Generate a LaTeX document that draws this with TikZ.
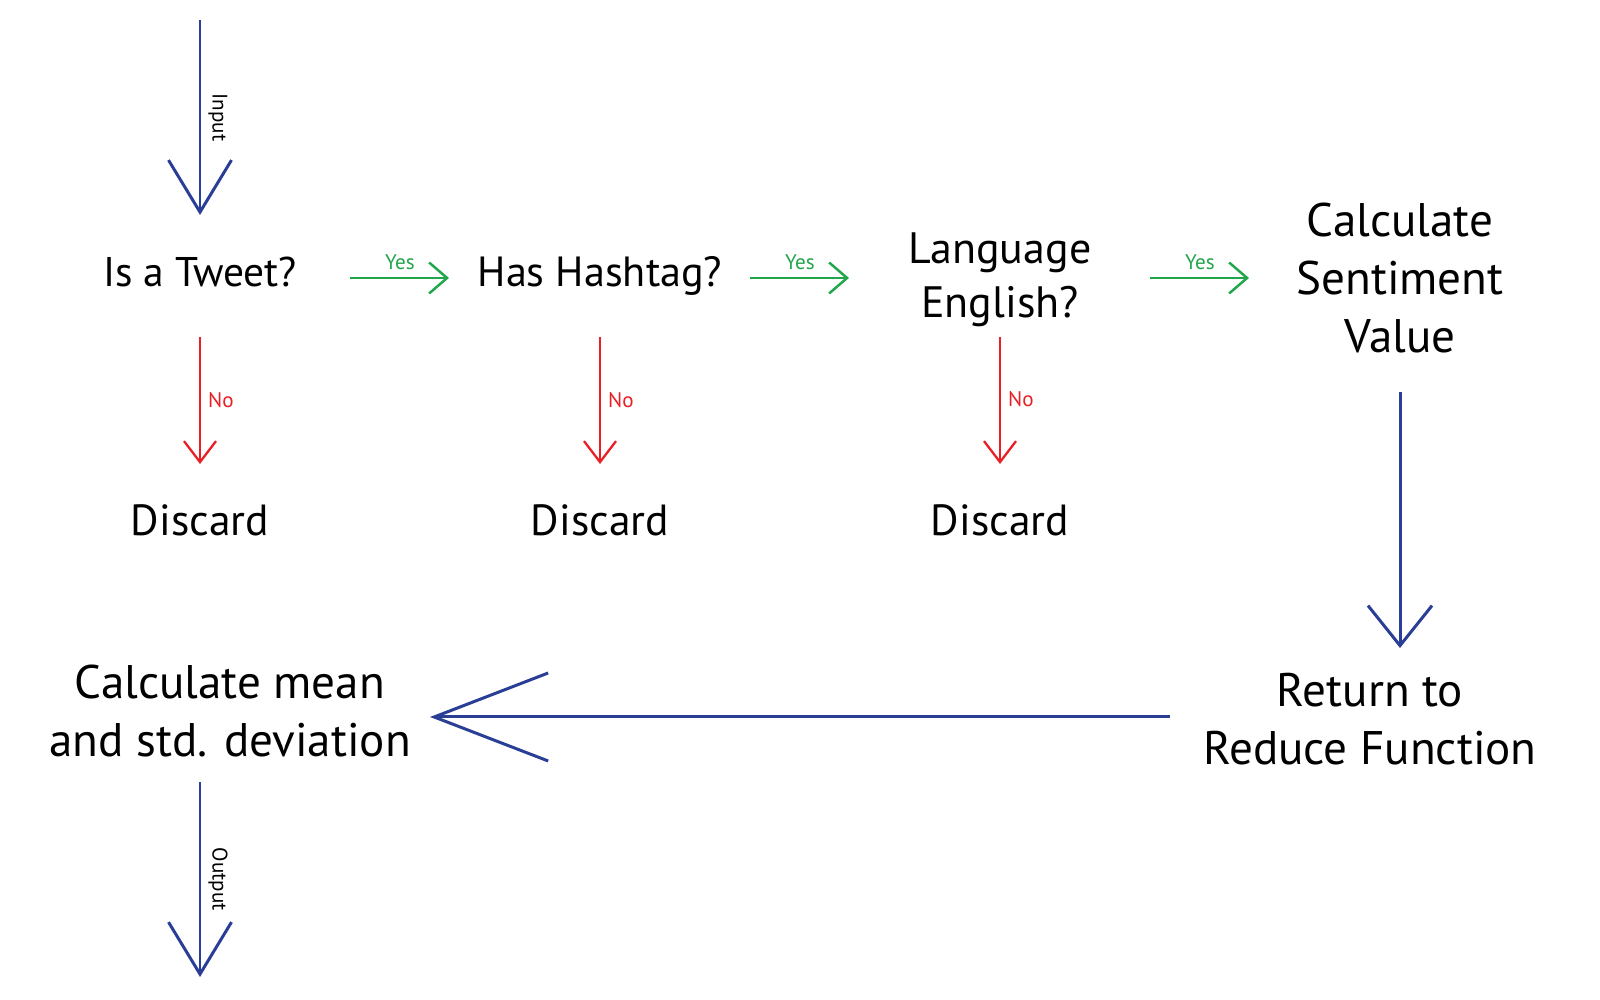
\documentclass[tikz,border=0pt]{standalone}
\usepackage{fontspec}
\setmainfont{PT Sans}
\usetikzlibrary{arrows.meta}

\definecolor{flowblue}{RGB}{42,62,150}
\definecolor{yesgreen}{RGB}{34,166,76}
\definecolor{nored}{RGB}{232,32,37}

\begin{document}
\begin{tikzpicture}[
    txt/.style = {inner sep=0, align=center, text=black,
        font=\fontsize{12.2pt}{16.4pt}\selectfont},
    big/.style = {txt, font=\fontsize{13.4pt}{16.4pt}\selectfont},
    oneline/.style = {txt, text height=0.7em, text depth=0pt},
    lbl/.style = {font=\fontsize{6pt}{7pt}\selectfont, inner sep=2pt},
    flow/.style = {draw=flowblue, line width=0.85pt},
    yes/.style = {draw=yesgreen, line width=0.7pt,
        -{Straight Barb[sharp, length=0.18cm, width=0.31cm]},
        shorten <=1.50cm, shorten >=1.51cm},
    no/.style = {draw=nored, line width=0.65pt,
        -{Straight Barb[sharp, length=0.21cm, width=0.32cm]},
        shorten <=0.63cm, shorten >=0.59cm},
    ]
  \useasboundingbox (0,0) rectangle (16,10);

        %free ends
        \coordinate (in) at (2.00, 9.80);
        \coordinate (out) at (2.00, 0.23);

        %checks
        \node[oneline, font=\fontsize{11.8pt}{16.4pt}\selectfont] (tweet) at (2.00, 7.26) {Is a Tweet?};
        \node[oneline, font=\fontsize{12pt}{16.4pt}\selectfont] (hashtag) at (6.00, 7.26) {Has Hashtag?};
        \node[txt, font=\fontsize{12.5pt}{15.5pt}\selectfont] (lang) at (10.00, 7.20) {Language\\English?};
        \node[big] (senti) at (14.00, 7.22) {Calculate\\Sentiment\\Value};

        %discards
        \node[oneline, font=\fontsize{12.4pt}{16.4pt}\selectfont] (disc1) at (2.00, 4.77) {Discard};
        \node[oneline, font=\fontsize{12.4pt}{16.4pt}\selectfont] (disc2) at (6.00, 4.77) {Discard};
        \node[oneline, font=\fontsize{12.4pt}{16.4pt}\selectfont] (disc3) at (10.00, 4.77) {Discard};

        %reduce
        \node[big] (reduce) at (13.70, 2.81) {Return to\\Reduce Function};
        \node[big] (mean) at (2.30, 2.89) {Calculate mean\\and std. deviation};

        \path
            %input
            (in) edge[flow, -{Straight Barb[sharp, length=0.52cm, width=0.63cm]}, shorten >=0.59cm]
                node [pos = 0.384, lbl, anchor = south, rotate = -90] {Input} (tweet.center)

            %yes branches
            ([yshift=-0.04cm]tweet.center) edge[yes] node [midway, above, lbl, text = yesgreen] {Yes}
                ([yshift=-0.04cm]tweet.center -| hashtag.center)
            ([yshift=-0.04cm]hashtag.center) edge[yes] node [midway, above, lbl, text = yesgreen] {Yes}
                ([yshift=-0.04cm]hashtag.center -| lang.center)
            ([yshift=0.02cm]lang.center) edge[yes] node [midway, above, lbl, text = yesgreen] {Yes}
                ([yshift=0.02cm]lang.center -| senti.center)

            %no branches
            (tweet.center) edge[no] node [pos = 0.505, right, lbl, text = nored] {No} (disc1.center)
            (hashtag.center) edge[no] node [pos = 0.505, right, lbl, text = nored] {No} (disc2.center)
            (lang.center) edge[no, shorten <=0.57cm] node [pos = 0.49, right, lbl, text = nored] {No} (disc3.center)

            %sentiment to reduce
            (senti.center) edge[flow, -{Straight Barb[sharp, length=0.40cm, width=0.64cm]},
                shorten <=1.14cm, shorten >=0.71cm] (senti.center |- reduce.center)

            %reduce to mean
            ([yshift=0.02cm]reduce.center) edge[flow, -{Straight Barb[sharp, length=1.14cm, width=0.88cm]},
                shorten <=2.00cm, shorten >=2.00cm] ([yshift=0.02cm]reduce.center -| mean.center)

            %output
            (mean.center -| out) edge[flow, -{Straight Barb[sharp, length=0.52cm, width=0.63cm]}, shorten <=0.71cm]
                node [pos = 0.632, lbl, anchor = south, rotate = -90] {Output} (out)
            ;

\end{tikzpicture}
\end{document}
